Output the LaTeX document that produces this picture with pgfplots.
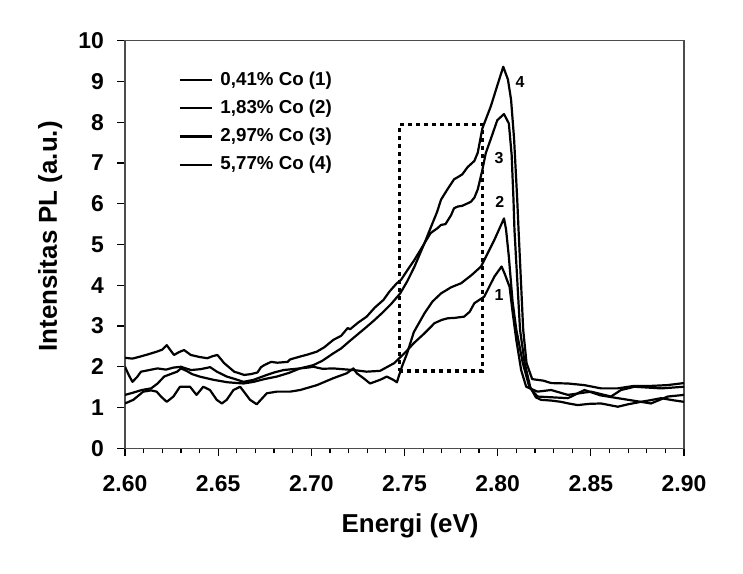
\documentclass[border=0pt]{standalone}
\usepackage{fontspec}
\setmainfont{Liberation Sans}
\usepackage{pgfplots}
\pgfplotsset{compat=1.18}

\begin{document}
\begin{tikzpicture}
\path[use as bounding box] (0,0) rectangle (371.5bp,287bp);
\begin{axis}[
  scale only axis,
  width=279.5bp, height=203.8bp,
  at={(62.5bp,62.85bp)}, anchor=south west,
  xmin=2.6, xmax=2.9, ymin=0, ymax=10,
  xtick={2.6,2.65,2.7,2.75,2.8,2.85,2.9},
  xticklabels={2.60,2.65,2.70,2.75,2.80,2.85,2.90},
  minor x tick num=4,
  ytick={0,1,...,10},
  tick align=outside,
  xtick pos=left, ytick pos=left,
  major tick length=4bp, minor tick length=2.5bp,
  axis line style={black!70, line width=0.8bp},
  tick style={black, line width=0.6bp},
  /pgf/number format/assume math mode=true,
  tick label style={font=\fontsize{11.5}{13}\selectfont\bfseries},
  xticklabel style={yshift=-6bp},
  yticklabel style={xshift=-3bp},
  label style={font=\fontsize{13}{15}\selectfont\bfseries},
  xlabel={Energi (eV)},
  ylabel={Intensitas PL (a.u.)},
  x label style={at={(axis description cs:0.51,-0.191)}, anchor=center},
  y label style={at={(axis description cs:-0.134,0.52)}, anchor=center},
  legend style={draw=none, fill=none, at={(0.085,0.94)}, anchor=north west,
    font=\fontsize{9.4}{11}\selectfont\bfseries, row sep=3.4bp,
    nodes={inner sep=1.2bp}},
  legend cell align=left,
  legend image code/.code={\draw[#1] (0bp,0bp) -- (16bp,0bp); \path (18.5bp,0bp);},
  cycle list={{black, solid, no markers}},
  no markers,
  every axis plot/.append style={black, line width=1.1bp, line join=round},
]

% 0,41% Co
\addplot coordinates {
(2.600,1.31)(2.604,1.36)(2.609,1.43)(2.614,1.47)(2.6175,1.59)(2.621,1.76)
(2.625,1.83)(2.628,1.88)(2.630,1.96)(2.633,1.90)(2.636,1.82)(2.640,1.76)
(2.6475,1.68)(2.655,1.62)(2.6636,1.59)(2.669,1.63)(2.675,1.70)(2.6815,1.76)
(2.688,1.85)(2.6939,1.96)(2.698,1.98)(2.7011,2.00)(2.706,1.95)(2.7118,1.96)
(2.717,1.94)(2.7226,1.92)(2.7297,1.88)(2.7369,1.90)(2.7445,2.09)(2.7508,2.37)
(2.755,2.58)(2.7607,2.82)(2.7661,3.07)(2.770,3.15)(2.7732,3.19)(2.777,3.20)
(2.782,3.23)(2.7850,3.35)(2.7875,3.56)(2.7928,3.72)(2.7982,4.21)(2.8021,4.46)
(2.8037,4.29)(2.8064,3.96)(2.8081,3.31)(2.8100,2.66)(2.8126,1.92)(2.8153,1.51)
(2.8214,1.39)(2.8287,1.43)(2.8377,1.31)(2.8501,1.39)(2.8608,1.27)(2.8662,1.43)
(2.8734,1.51)(2.8878,1.47)(2.900,1.51)
};
\addlegendentry{0,41\% Co (1)}

% 1,83% Co
\addplot coordinates {
(2.600,1.10)(2.6045,1.19)(2.6098,1.39)(2.614,1.42)(2.617,1.39)(2.6193,1.27)
(2.6224,1.14)(2.626,1.27)(2.6295,1.51)(2.6349,1.51)(2.6384,1.31)(2.642,1.51)
(2.6456,1.43)(2.6492,1.19)(2.652,1.10)(2.6546,1.19)(2.6582,1.43)(2.6618,1.51)
(2.6671,1.19)(2.6707,1.08)(2.6761,1.35)(2.6815,1.39)(2.6886,1.39)(2.694,1.43)
(2.703,1.55)(2.7118,1.72)(2.719,1.84)(2.7226,1.96)(2.7244,1.84)(2.728,1.72)
(2.7315,1.59)(2.7369,1.68)(2.7405,1.76)(2.744,1.68)(2.7459,1.62)(2.7486,2.00)
(2.7514,2.33)(2.755,2.85)(2.7607,3.31)(2.765,3.60)(2.7696,3.80)(2.775,3.95)
(2.7804,4.05)(2.786,4.25)(2.7911,4.46)(2.7982,5.11)(2.8034,5.64)(2.8045,5.37)
(2.806,4.70)(2.808,3.60)(2.810,2.91)(2.8135,2.09)(2.817,1.50)(2.8214,1.27)
(2.8377,1.23)(2.8466,1.43)(2.855,1.30)(2.8645,1.23)(2.8823,1.10)(2.8913,1.27)
(2.900,1.31)
};
\addlegendentry{1,83\% Co (2)}

% 2,97% Co
\addplot coordinates {
(2.600,2.22)(2.604,2.20)(2.6081,2.25)(2.612,2.30)(2.617,2.37)(2.620,2.42)
(2.6224,2.53)(2.6245,2.40)(2.6263,2.29)(2.629,2.36)(2.6317,2.41)(2.6353,2.29)
(2.640,2.24)(2.6442,2.21)(2.647,2.26)(2.6496,2.29)(2.6532,2.09)(2.6586,1.88)
(2.664,1.80)(2.6676,1.82)(2.6711,1.86)(2.673,1.99)(2.6747,2.04)(2.6784,2.12)
(2.6818,2.10)(2.6873,2.12)(2.6886,2.18)(2.6939,2.25)(2.698,2.30)(2.7029,2.37)
(2.707,2.48)(2.7118,2.66)(2.716,2.76)(2.7195,2.95)(2.7208,2.92)(2.725,3.08)
(2.7297,3.23)(2.734,3.45)(2.7387,3.64)(2.742,3.85)(2.7459,4.05)(2.7481,4.13)
(2.752,4.40)(2.7553,4.62)(2.7607,5.03)(2.764,5.28)(2.7677,5.40)(2.7696,5.48)
(2.772,5.50)(2.775,5.72)(2.7766,5.89)(2.7785,5.93)(2.781,5.95)(2.7839,6.01)
(2.7857,6.05)(2.7875,6.15)(2.7893,6.35)(2.7918,6.83)(2.7936,7.24)(2.7964,7.60)
(2.7998,8.05)(2.8034,8.20)(2.806,7.97)(2.8075,7.20)(2.8085,6.09)(2.809,5.37)
(2.812,2.91)(2.8145,2.09)(2.8175,1.50)(2.8205,1.25)(2.8232,1.19)(2.829,1.17)
(2.834,1.14)(2.838,1.10)(2.843,1.06)(2.849,1.09)(2.8555,1.10)(2.860,1.06)
(2.8645,1.02)(2.870,1.08)(2.8769,1.14)(2.882,1.18)(2.8877,1.23)(2.894,1.18)
(2.900,1.14)
};
\addlegendentry{2,97\% Co (3)}

% 5,77% Co
\addplot coordinates {
(2.600,2.00)(2.602,1.80)(2.604,1.63)(2.6065,1.75)(2.6086,1.88)(2.613,1.92)
(2.6175,1.96)(2.622,1.93)(2.626,1.98)(2.630,2.00)(2.6354,1.92)(2.6403,1.94)
(2.6457,1.99)(2.6493,1.88)(2.6546,1.76)(2.659,1.70)(2.6636,1.63)(2.669,1.68)
(2.6761,1.80)(2.680,1.86)(2.6851,1.92)(2.6939,1.96)(2.6975,2.00)(2.7011,2.04)
(2.706,2.15)(2.7118,2.33)(2.716,2.45)(2.7208,2.64)(2.725,2.80)(2.7297,2.98)
(2.734,3.15)(2.7387,3.35)(2.743,3.55)(2.7477,3.80)(2.7515,4.10)(2.7553,4.45)
(2.7607,5.03)(2.7643,5.44)(2.7675,5.80)(2.7696,6.10)(2.773,6.35)(2.7766,6.60)
(2.7785,6.65)(2.781,6.72)(2.7839,6.90)(2.7875,7.05)(2.7893,7.25)(2.7918,7.85)
(2.7964,8.40)(2.7998,8.90)(2.803,9.36)(2.8055,9.05)(2.8072,8.55)(2.8088,7.60)
(2.8105,6.10)(2.8112,5.37)(2.8137,2.91)(2.8155,2.09)(2.8185,1.70)(2.8196,1.69)
(2.8245,1.66)(2.8287,1.60)(2.8377,1.59)(2.8465,1.55)(2.8555,1.47)(2.8645,1.47)
(2.873,1.53)(2.882,1.53)(2.891,1.55)(2.900,1.60)
};
\addlegendentry{5,77\% Co (4)}

% dotted box round the shoulder region
\addplot[forget plot, line width=1.8bp, dash pattern=on 2bp off 2bp, line join=miter]
  coordinates {(2.7473,1.89)(2.7918,1.89)(2.7918,7.94)(2.7473,7.94)} -- cycle;

% curve numbers
\node[font=\fontsize{8}{9}\selectfont\bfseries] at (axis cs:2.8120,8.99) {4};
\node[font=\fontsize{8}{9}\selectfont\bfseries] at (axis cs:2.8007,7.13) {3};
\node[font=\fontsize{8}{9}\selectfont\bfseries] at (axis cs:2.8011,6.05) {2};
\node[font=\fontsize{8}{9}\selectfont\bfseries] at (axis cs:2.8007,3.76) {1};

\end{axis}
\end{tikzpicture}
\end{document}
